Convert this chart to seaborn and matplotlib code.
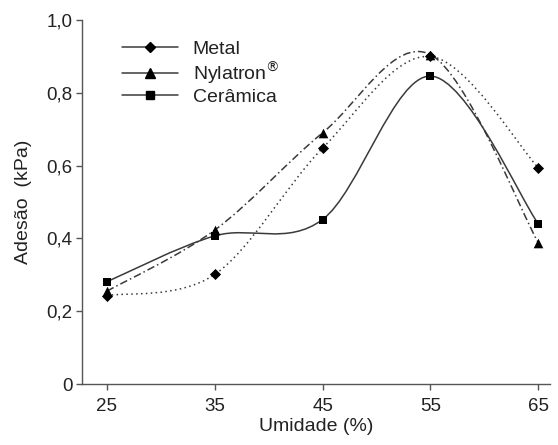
import numpy as np
import pandas as pd
import matplotlib
matplotlib.use("Agg")
import matplotlib.pyplot as plt
from matplotlib.path import Path
from matplotlib.patches import PathPatch
from matplotlib.lines import Line2D
from matplotlib.ticker import FuncFormatter
import seaborn as sns

umidade = [25, 35, 45, 55, 65]
metal = [0.243, 0.301, 0.648, 0.900, 0.594]
nylatron = [0.255, 0.423, 0.690, 0.905, 0.388]
ceramica = [0.281, 0.407, 0.452, 0.846, 0.440]
series_names = ["Metal", "Nylatron$^{\\circledR}$", "Cerâmica"]

sns.set_style("ticks")
plt.rcParams['font.family'] = ['Liberation Sans', 'DejaVu Sans']

fig = plt.figure(figsize=(5.58, 4.45), dpi=100)
ax = fig.add_axes([0.147, 0.137, 0.839, 0.818])

LC = "#3a3a3a"


def smooth_path(x, y):
    pts = np.column_stack([x, y]).astype(float)
    n = len(pts)
    verts = [pts[0]]
    codes = [Path.MOVETO]
    for i in range(n - 1):
        p0 = pts[i - 1] if i > 0 else pts[i]
        p1 = pts[i]
        p2 = pts[i + 1]
        p3 = pts[i + 2] if i + 2 < n else pts[i + 1]
        b1 = p1 + (p2 - p0) / 6.0
        b2 = p2 - (p3 - p1) / 6.0
        verts += [b1, b2, p2]
        codes += [Path.CURVE4] * 3
    return Path(verts, codes)


styles = [
    (metal, "D", 5.5, (0, (1, 2.2)), 32),
    (nylatron, "^", 6.5, (0, (5, 2, 1, 2)), 48),
    (ceramica, "s", 6, "-", 38),
]

for (vals, mk, ms, ls, s), name in zip(styles, series_names):
    ax.add_patch(PathPatch(smooth_path(umidade, vals), facecolor="none",
                           edgecolor=LC, lw=1.1, linestyle=ls, zorder=2))
    df = pd.DataFrame({"x": umidade, "y": vals})
    sns.scatterplot(data=df, x="x", y="y", marker=mk, s=s, color="black",
                    edgecolor="black", linewidth=0, ax=ax, zorder=3)

handles = [Line2D([], [], color=LC, lw=1.1, marker=m, markersize=ms,
                  markerfacecolor="black", markeredgecolor="black")
           for (_, m, ms, _, _) in styles]
leg = ax.legend(handles, series_names, loc="upper left", bbox_to_anchor=(0.085, 0.945),
                frameon=False, fontsize=14, handlelength=2.9, handletextpad=0.75,
                labelspacing=0.12, borderpad=0, borderaxespad=0, labelcolor="#222222")

ax.set_xlim(22.7, 66.1)
ax.set_ylim(0, 1.0)
ax.set_xticks(umidade)
ax.set_yticks([0, 0.2, 0.4, 0.6, 0.8, 1.0])
ax.yaxis.set_major_formatter(FuncFormatter(lambda v, p: "0" if v == 0 else f"{v:.1f}".replace(".", ",")))
ax.set_xlabel("Umidade (%)", fontsize=14, color="#222222", labelpad=2)
ax.set_ylabel("Adesão  (kPa)", fontsize=14, color="#222222", labelpad=10)
ax.tick_params(labelsize=13.5, colors="#222222", length=4, width=1, color="#555555", pad=3)
ax.tick_params(axis="x", pad=6)
for sp in ["top", "right"]:
    ax.spines[sp].set_visible(False)
for sp in ["left", "bottom"]:
    ax.spines[sp].set_color("#555555")
    ax.spines[sp].set_linewidth(1)

fig.savefig("out.png", dpi=100)
